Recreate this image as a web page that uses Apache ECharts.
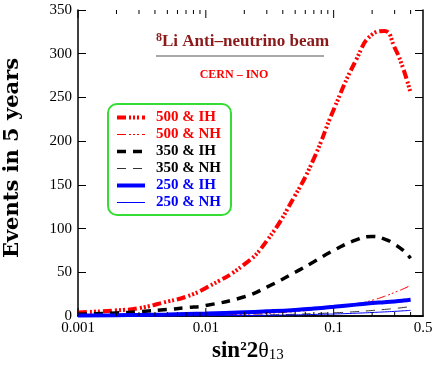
<!DOCTYPE html>
<html>
<head>
<meta charset="utf-8">
<script src="https://cdn.jsdelivr.net/npm/echarts@6/dist/echarts.min.js"></script>
<style>
  html, body { margin: 0; padding: 0; background: #fff; }
  #myChart { width: 436px; height: 382px; }
</style>
</head>
<body>
<div id="myChart"></div>
<script>
// sin^2 2theta13 sample points
const sin2 = [0.001, 0.002, 0.003, 0.005, 0.007, 0.01, 0.02, 0.03, 0.05, 0.07, 0.1, 0.15, 0.2, 0.25, 0.3, 0.35, 0.4]
// events in 5 years
const ih500 = [4, 6.5, 9, 16.5, 22, 32, 59, 86, 138, 180, 236, 293, 322, 326, 307, 283, 255]
const nh500 = [0.1, 0.2, 0.3, 0.5, 0.7, 1, 2, 3, 5, 7, 9.5, 13.5, 18, 22.5, 27, 31, 35]
const ih350 = [2, 3.5, 5, 7.5, 9.5, 12, 22, 33, 50, 62, 75, 87, 91, 88, 82, 75, 66]
const nh350 = [0.05, 0.1, 0.13, 0.2, 0.28, 0.4, 0.8, 1.2, 2, 2.7, 3.6, 5, 6.3, 7.5, 8.6, 9.7, 10.8]
const ih250 = [0.5, 0.9, 1.2, 1.7, 2.2, 2.8, 4.2, 5.3, 7, 8.5, 10.5, 13, 14.8, 15.8, 16.7, 17.6, 18.5]
const nh250 = [0.03, 0.06, 0.09, 0.15, 0.2, 0.3, 0.6, 0.8, 1.3, 1.8, 2.3, 3.2, 4, 4.7, 5.3, 5.9, 6.5]
// log tick positions
const majorTicks = [0.001, 0.01, 0.1]
const minorTicks = [0.002, 0.003, 0.004, 0.005, 0.006, 0.007, 0.008, 0.009,
  0.02, 0.03, 0.04, 0.05, 0.06, 0.07, 0.08, 0.09, 0.2, 0.3, 0.4]

const serif = 'Liberation Serif'
const dashDot = [9, 3, 2, 2, 2, 2, 2, 3]

function pairs (ys) {
  return sin2.map(function (x, i) { return [x, ys[i]] })
}

// name, data, colour, width, dash
let curves = [
  ['500 & IH', ih500, '#ff0000', 4, dashDot, '#ff0000'],
  ['500 & NH', nh500, '#ff0000', 1, dashDot, '#ff0000'],
  ['350 & IH', ih350, '#000000', 3.5, [9, 7], '#000000'],
  ['350 & NH', nh350, '#333333', 1, [9, 7], '#000000'],
  ['250 & IH', ih250, '#0000ff', 4, 'solid', '#0000ff'],
  ['250 & NH', nh250, '#0000ff', 1, 'solid', '#0000ff']
]

let myChart = echarts.init(document.getElementById('myChart'))

let series = curves.map(function (c) {
  return {
    name: c[0],
    type: 'line',
    smooth: true,
    symbol: 'none',
    showSymbol: false,
    z: 3,
    lineStyle: { color: c[2], width: c[3], type: c[4] },
    itemStyle: { color: c[2] },
    data: pairs(c[1])
  }
})

let tickData = majorTicks.map(function (v) { return [v, 8] })
  .concat(minorTicks.map(function (v) { return [v, 4] }))

series.push({
  name: 'logTicks',
  type: 'custom',
  silent: true,
  clip: false,
  z: 10,
  data: tickData,
  renderItem: function (params, api) {
    let len = api.value(1)
    let b = api.coord([api.value(0), 0])
    let t = api.coord([api.value(0), 350])
    return {
      type: 'group',
      children: [
        { type: 'line', shape: { x1: b[0], y1: b[1], x2: b[0], y2: b[1] - len }, style: { stroke: '#000', lineWidth: 1 } },
        { type: 'line', shape: { x1: t[0], y1: t[1], x2: t[0], y2: t[1] + len }, style: { stroke: '#000', lineWidth: 1 } }
      ]
    }
  }
})

let option = {
  backgroundColor: '#ffffff',
  animation: false,
  grid: { left: 78, right: 13, top: 10, bottom: 66 },
  xAxis: [{
    type: 'log',
    min: 0.001,
    max: 0.5,
    logBase: 10,
    axisLine: { lineStyle: { color: '#000', width: 1.5 } },
    axisTick: { show: false },
    splitLine: { show: false },
    axisLabel: {
      color: '#000', fontFamily: serif, fontSize: 15, margin: 5,
      showMaxLabel: true,
      formatter: function (v) { return String(+Number(v).toPrecision(3)) }
    }
  }, {
    type: 'log',
    position: 'top',
    min: 0.001,
    max: 0.5,
    logBase: 10,
    axisLine: { lineStyle: { color: '#000', width: 1.5 } },
    axisTick: { show: false },
    splitLine: { show: false },
    axisLabel: { show: false }
  }],
  yAxis: [{
    type: 'value',
    min: 0,
    max: 350,
    interval: 50,
    axisLine: { show: true, lineStyle: { color: '#000', width: 1.5 } },
    axisTick: { show: true, inside: true, length: 8, lineStyle: { color: '#000' } },
    splitLine: { show: false },
    axisLabel: { color: '#000', fontFamily: serif, fontSize: 15, margin: 6 }
  }, {
    type: 'value',
    position: 'right',
    min: 0,
    max: 350,
    interval: 50,
    axisLine: { show: true, lineStyle: { color: '#000', width: 1.5 } },
    axisTick: { show: true, inside: true, length: 8, lineStyle: { color: '#000' } },
    splitLine: { show: false },
    axisLabel: { show: false }
  }],
  legend: {
    orient: 'vertical',
    left: 108,
    top: 104,
    padding: [6, 10, 5, 7],
    itemGap: 2,
    itemWidth: 28,
    itemHeight: 12,
    borderColor: '#33dd33',
    borderWidth: 2,
    borderRadius: 9,
    backgroundColor: '#ffffff',
    itemStyle: { opacity: 0 },
    data: curves.map(function (c) {
      return {
        name: c[0],
        textStyle: { color: c[5] },
        lineStyle: { color: c[2], width: c[3], type: c[4] }
      }
    }),
    textStyle: {
      fontFamily: serif, fontWeight: 'bold', fontSize: 15,
      padding: [0, 0, 0, 6]
    }
  },
  graphic: [
    {
      type: 'text',
      left: 156,
      top: 32,
      style: {
        text: '{s|8}{t|Li Anti\u2013neutrino beam}',
        fill: '#8b1a1a',
        rich: {
          s: { fontFamily: serif, fontWeight: 'bold', fontSize: 12, fill: '#8b1a1a', verticalAlign: 'top', padding: [0, 0, 7, 0] },
          t: { fontFamily: serif, fontWeight: 'bold', fontSize: 17, fill: '#8b1a1a' }
        }
      }
    },
    {
      type: 'line',
      shape: { x1: 156, y1: 56, x2: 324, y2: 56 },
      style: { stroke: '#555', lineWidth: 1.2 }
    },
    {
      type: 'text',
      x: 234,
      y: 75,
      style: {
        text: 'CERN \u2013 INO',
        fill: '#ff0000',
        font: 'bold 12px "Liberation Serif"',
        align: 'center',
        verticalAlign: 'middle'
      }
    },
    {
      type: 'text',
      x: 13,
      y: 158,
      rotation: Math.PI / 2,
      style: {
        text: 'Events in 5 years',
        fill: '#000',
        font: 'bold 21px "DejaVu Serif"',
        align: 'center',
        verticalAlign: 'middle'
      }
    },
    {
      type: 'text',
      left: 212,
      top: 340,
      style: {
        text: '{b|sin}{p|2}{b|2}{g|\u03b8}{d|13}',
        rich: {
          b: { fontFamily: serif, fontWeight: 'bold', fontSize: 23, fill: '#000' },
          p: { fontFamily: serif, fontWeight: 'bold', fontSize: 13, fill: '#000', verticalAlign: 'top', padding: [0, 0, 10, 0] },
          g: { fontFamily: serif, fontSize: 22, fill: '#000' },
          d: { fontFamily: serif, fontSize: 15, fill: '#000', verticalAlign: 'bottom', padding: [6, 0, 0, 0] }
        }
      }
    }
  ],
  series: series
}
myChart.setOption(option)
</script>
</body>
</html>
